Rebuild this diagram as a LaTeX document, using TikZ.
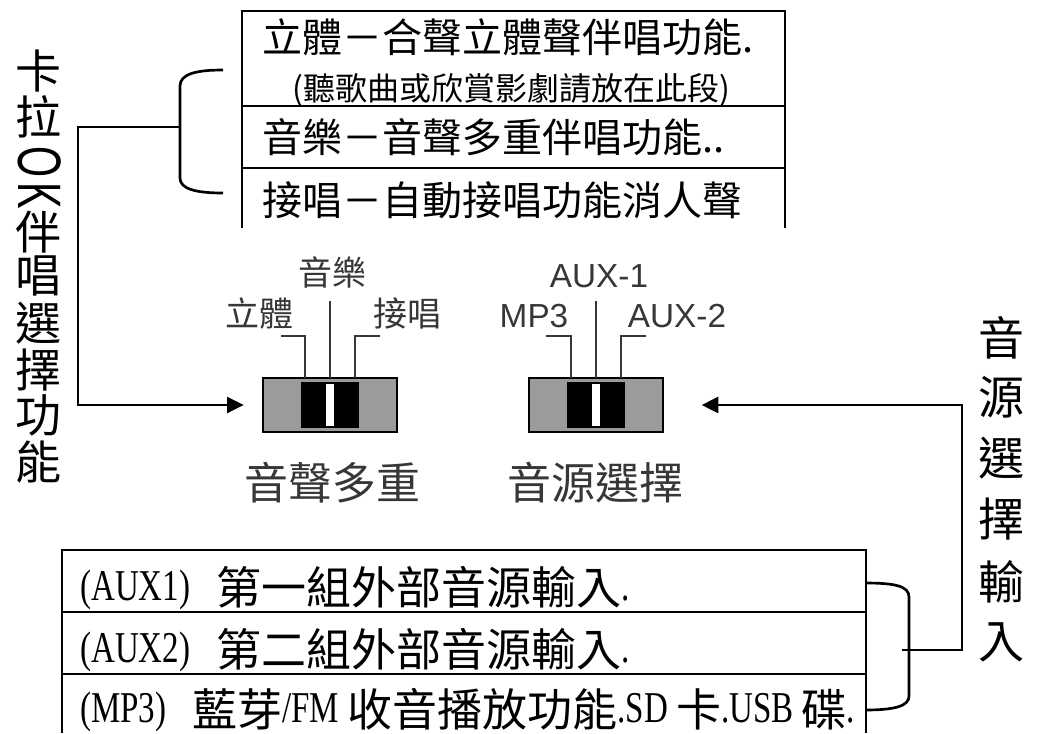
\documentclass[tikz,border=0pt]{standalone}
\usepackage{fontspec}
\usetikzlibrary{arrows.meta}
\newfontfamily\cjk{Noto Sans CJK TC}
\newfontfamily\lser{Liberation Serif}
\newfontfamily\lsans{Liberation Sans}
\definecolor{swgray}{RGB}{155,155,155}
\definecolor{lbl}{RGB}{55,55,55}
\newcommand{\myls}[1]{{\lser\fontsize{33}{33}\selectfont\raisebox{3pt}{\scalebox{0.75}[1]{#1}}}}
\newcommand{\mycj}[1]{{\cjk\fontsize{33.75}{33.75}\selectfont #1}}
\newcommand{\rotlat}[1]{\rotatebox{-90}{\lsans\fontsize{46}{46}\selectfont\scalebox{0.65}[1]{#1}}}
\begin{document}
\begin{tikzpicture}[x=0.75pt,y=-0.75pt,
  tbl/.style={line width=1.5pt},
  conn/.style={line width=2pt},
  pin/.style={line width=1.6pt, draw=lbl},
  txt/.style={inner sep=0pt, anchor=base west},
  toptxt/.style={txt, font=\cjk\fontsize{30}{30}\selectfont},
  tip/.style={-{Triangle[length=12.5pt,width=12pt]}},
  vch/.style={inner sep=0pt, font=\cjk\fontsize{34.5}{34.5}\selectfont},
  lab/.style={inner sep=0pt, anchor=base, text=lbl, font=\cjk\fontsize{25.5}{25.5}\selectfont},
  labl/.style={inner sep=0pt, anchor=base, text=lbl, font=\lsans\fontsize{25}{25}\selectfont},
  big/.style={inner sep=0pt, anchor=base, text=lbl, font=\cjk\fontsize{33}{33}\selectfont},
  swb/.style={draw=black, fill=swgray, line width=2pt, inner sep=0pt, minimum width=100.5pt, minimum height=40.5pt},
  swk/.style={fill=black, inner sep=0pt, minimum width=43.5pt, minimum height=34.5pt},
  sww/.style={fill=white, inner sep=0pt, minimum width=6pt, minimum height=31.5pt}
]
\useasboundingbox (0,0) rectangle (1041,733);

% ---------- top table ----------
\draw[tbl] (242,228) -- (242,11) -- (785,11) -- (785,228);
\draw[tbl] (242,106) -- (785,106);
\draw[tbl] (242,168) -- (785,168);
\node[toptxt] (r1) at (262,52) {立體－合聲立體聲伴唱功能.};
\node[txt, font=\cjk\fontsize{24}{24}\selectfont] (r1b) at (292,100) {(聽歌曲或欣賞影劇請放在此段)};
\node[toptxt] (r2) at (262,152) {音樂－音聲多重伴唱功能..};
\node[toptxt] (r3) at (262,215) {接唱－自動接唱功能消人聲};

% ---------- bottom table ----------
\draw[tbl] (62,733) -- (62,550) -- (866,550) -- (866,733);
\draw[tbl] (62,612) -- (866,612);
\draw[tbl] (62,674) -- (866,674);
\node[txt] (b1) at (80,604) {\myls{(AUX1)}\hspace{19.5pt}\mycj{第一組外部音源輸入}\myls{.}};
\node[txt] (b2) at (80,666) {\myls{(AUX2)}\hspace{19.5pt}\mycj{第二組外部音源輸入}\myls{.}};
\node[txt] (b3) at (80,726) {\myls{(MP3)}\hspace{19.5pt}\mycj{藍芽}\myls{/FM }\mycj{收音播放功能}\myls{.SD }\mycj{卡}\myls{.USB }\mycj{碟}\myls{.}};

% ---------- switch 1 ----------
\node[swb] (sw1) at (330,405) {};
\node[swk] (sw1k) at (sw1.center) {};
\node[sww] (sw1w) at (sw1.center) {};
\draw[pin] (305,378) -- (305,336) -- (281,336);
\draw[pin] (330,378) -- (330,301);
\draw[pin] (355,378) -- (355,336) -- (380,336);
\node[lab] (l1) at (259,326) {立體};
\node[lab] (l2) at (332,285) {音樂};
\node[lab] (l3) at (407,326) {接唱};
\node[big] (n1) at (332,499) {音聲多重};

% ---------- switch 2 ----------
\node[swb] (sw2) at (596,405) {};
\node[swk] (sw2k) at (sw2.center) {};
\node[sww] (sw2w) at (sw2.center) {};
\draw[pin] (571,378) -- (571,336) -- (546,336);
\draw[pin] (596,378) -- (596,301);
\draw[pin] (621,378) -- (621,336) -- (646,336);
\node[labl] (m1) at (534,327) {MP3};
\node[labl] (m2) at (599,287) {AUX-1};
\node[labl] (m3) at (677,327) {AUX-2};
\node[big] (n2) at (595,499) {音源選擇};

% ---------- left vertical text ----------
\node[vch] (v1) at (39,71) {卡};
\node[vch] (v2) at (39,117) {拉};
\node[inner sep=0pt] (v3) at (40,162) {\rotlat{O}};
\node[inner sep=0pt] (v4) at (40,196) {\rotlat{K}};
\node[vch] (v5) at (39,232) {伴};
\node[vch] (v6) at (39,276) {唱};
\node[vch] (v7) at (39,323) {選};
\node[vch] (v8) at (39,370) {擇};
\node[vch] (v9) at (39,415) {功};
\node[vch] (v10) at (39,462) {能};

% ---------- right vertical text ----------
\node[vch] (w1) at (1001,338) {音};
\node[vch] (w2) at (1001,397) {源};
\node[vch] (w3) at (1001,458) {選};
\node[vch] (w4) at (1001,519) {擇};
\node[vch] (w5) at (1001,582) {輸};
\node[vch] (w6) at (1001,642) {入};

% ---------- connectors ----------
\draw[conn] (223,70) .. controls (196,70) and (180,74) .. (180,86) -- (180,178) .. controls (180,189) and (196,193) .. (223,193);
\coordinate (lbm) at (180,127);
\draw[conn, tip, shorten >=13.5pt] (lbm) -- (78,127) |- (sw1.west);

\draw[conn] (865,583) .. controls (895,583) and (909,586) .. (909,597) -- (909,696) .. controls (909,706) and (895,710) .. (865,710);
\coordinate (rbm) at (902,650);
\draw[conn, tip, shorten >=28pt] (rbm) -- (962,650) |- (sw2.east);
\end{tikzpicture}
\end{document}
